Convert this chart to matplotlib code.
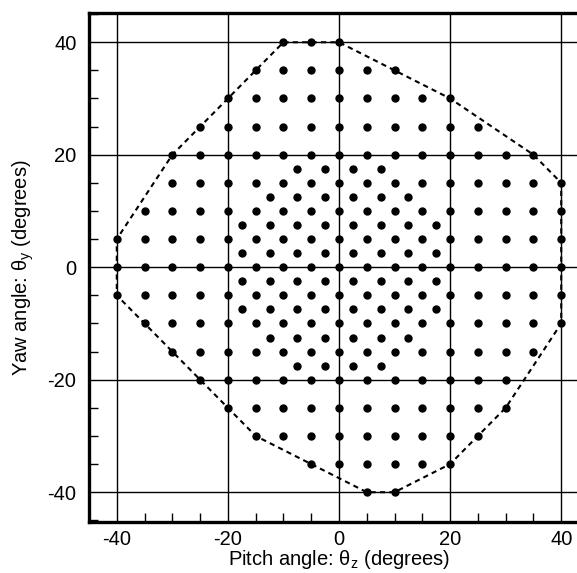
import numpy as np
import matplotlib
matplotlib.use("Agg")
import matplotlib.pyplot as plt
from matplotlib.ticker import MultipleLocator

plt.rcParams['font.family'] = ['Liberation Sans', 'DejaVu Sans']
plt.rcParams['mathtext.fontset'] = 'custom'
plt.rcParams['mathtext.rm'] = 'Liberation Sans'
plt.rcParams['axes.unicode_minus'] = False

# main 5-degree grid: each row (yaw) with first and last pitch value
row_y    = [40, 35, 30, 25, 20, 15, 10, 5, 0, -5, -10, -15, -20, -25, -30, -35, -40]
row_xmin = [-10, -15, -20, -25, -30, -30, -35, -40, -40, -40, -35, -30, -25, -20, -15, -5, 5]
row_xmax = [0, 10, 20, 25, 35, 40, 40, 40, 40, 40, 40, 35, 30, 30, 25, 20, 10]

# offset rows in the centre (half-step grid)
off_y    = [17.5, 12.5, 7.5, 2.5, -2.5, -7.5, -12.5, -17.5]
off_xmin = [-7.5, -12.5, -17.5, -17.5, -17.5, -17.5, -12.5, -7.5]
off_xmax = [7.5, 12.5, 17.5, 17.5, 17.5, 17.5, 12.5, 7.5]

# dashed boundary
bnd_x = [-10, 0, 20, 35, 40, 40, 30, 20, 10, 5, -5, -15, -40, -40, -30, -20, -10]
bnd_y = [40, 40, 30, 20, 15, -10, -25, -35, -40, -40, -35, -30, -5, 5, 20, 30, 40]

px, py = [], []
for y, a, b in zip(row_y + off_y, row_xmin + off_xmin, row_xmax + off_xmax):
    xs = np.arange(a, b + 0.1, 5)
    px.extend(xs)
    py.extend([y] * len(xs))

fig = plt.figure(figsize=(5.77, 5.73), dpi=100)
ax = fig.add_axes([89 / 577, 51 / 573, 500 / 577, 509 / 573])
ax.set_xlim(-45, 45)
ax.set_ylim(-45.3, 45.2)

ax.set_xticks([-40, -20, 0, 20, 40])
ax.set_yticks([-40, -20, 0, 20, 40])
ax.xaxis.set_minor_locator(MultipleLocator(5))
ax.yaxis.set_minor_locator(MultipleLocator(5))
ax.tick_params(which='major', length=0, labelsize=14.5)
ax.tick_params(axis='x', which='major', pad=6)
ax.tick_params(axis='y', which='major', pad=9)
ax.tick_params(which='minor', direction='in', length=6.5, width=1.0, color='black')
ax.grid(True, which='major', color='black', linewidth=1.0)
ax.set_axisbelow(True)

for s in ['left', 'bottom', 'top']:
    ax.spines[s].set_linewidth(2.4)
ax.spines['right'].set_visible(False)

ax.plot(bnd_x, bnd_y, color='black', linewidth=1.5, linestyle=(0, (2.5, 2.0)), zorder=3)
ax.plot(px, py, 'o', color='black', markersize=5.0, zorder=4)

ax.set_xlabel('Pitch angle: θ$_\\mathrm{z}$ (degrees)', fontsize=14.5)
ax.xaxis.set_label_coords(0.5, -0.052)
ax.set_ylabel('Yaw angle: θ$_\\mathrm{y}$ (degrees)', fontsize=14.5, labelpad=8)

fig.savefig('out.png', dpi=100)
